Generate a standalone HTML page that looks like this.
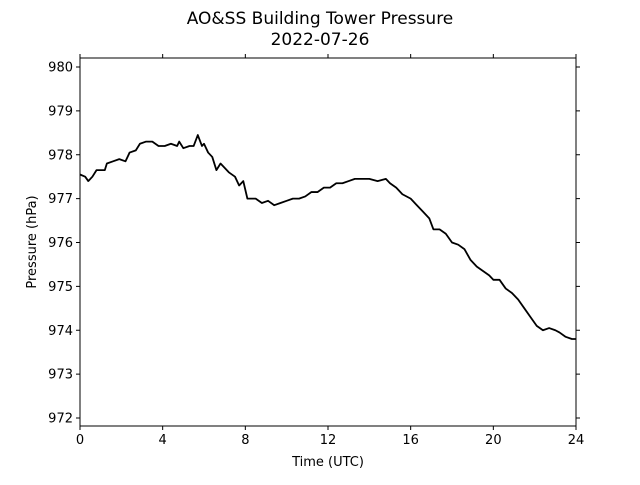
<!DOCTYPE html>
<html><head><meta charset="utf-8"><style>
body{margin:0;background:#fff}
text{font-family:"DejaVu Sans","Liberation Sans",sans-serif;fill:#000}
</style></head><body>
<svg id="chart" width="640" height="480" xmlns="http://www.w3.org/2000/svg">
<text x="320" y="24" font-size="17" text-anchor="middle">AO&amp;SS Building Tower Pressure</text>
<text x="320" y="45" font-size="17" text-anchor="middle">2022-07-26</text>
<text x="328" y="466" font-size="13" text-anchor="middle">Time (UTC)</text>
<text transform="translate(36,242) rotate(-90)" font-size="13" text-anchor="middle">Pressure (hPa)</text>
</svg>
<script>
const hours=[0,0.25,0.4,0.6,0.8,1.2,1.3,1.6,1.9,2.2,2.4,2.7,2.9,3.2,3.5,3.8,4.1,4.4,4.7,4.8,5.0,5.3,5.5,5.7,5.9,6.0,6.2,6.4,6.6,6.8,7.0,7.2,7.5,7.7,7.9,8.1,8.5,8.8,9.1,9.4,9.7,10.0,10.3,10.6,10.9,11.2,11.5,11.8,12.1,12.4,12.7,13.0,13.3,13.6,14.0,14.4,14.8,15.0,15.3,15.6,16.0,16.3,16.6,16.9,17.1,17.4,17.7,18.0,18.3,18.6,18.9,19.2,19.5,19.8,20.0,20.3,20.6,20.9,21.2,21.5,21.8,22.1,22.4,22.7,23.0,23.2,23.5,23.8,24.0];
const pressure=[977.55,977.5,977.4,977.5,977.65,977.65,977.8,977.85,977.9,977.85,978.05,978.1,978.25,978.3,978.3,978.2,978.2,978.25,978.2,978.3,978.15,978.2,978.2,978.45,978.2,978.25,978.05,977.95,977.65,977.8,977.7,977.6,977.5,977.3,977.4,977.0,977.0,976.9,976.95,976.85,976.9,976.95,977.0,977.0,977.05,977.15,977.15,977.25,977.25,977.35,977.35,977.4,977.45,977.45,977.45,977.4,977.45,977.35,977.25,977.1,977.0,976.85,976.7,976.55,976.3,976.3,976.2,976.0,975.95,975.85,975.6,975.45,975.35,975.25,975.15,975.15,974.95,974.85,974.7,974.5,974.3,974.1,974.0,974.05,974.0,973.95,973.85,973.8,973.8];
const xTicks=[0,4,8,12,16,20,24];
const yTicks=[972,973,974,975,976,977,978,979,980];
const L=80,R=576,T=58,B=426;
const x=h=>L+(h/24)*(R-L);
const y=v=>418-(v-972)*43.875;
const svg=document.getElementById('chart');const NS='http://www.w3.org/2000/svg';
function mk(tag,attrs){const e=document.createElementNS(NS,tag);for(const k in attrs)e.setAttribute(k,attrs[k]);svg.appendChild(e);return e;}
xTicks.forEach(t=>{
 const a=mk('line',{x1:x(t),x2:x(t),y1:B,y2:B+4,stroke:'#000'});
 
 const b=mk('line',{x1:x(t),x2:x(t),y1:T,y2:T-4,stroke:'#000'});
 
 const l=mk('text',{x:x(t),y:B+18,'font-size':13,'text-anchor':'middle'});l.textContent=t;
 
});
yTicks.forEach(t=>{
 const a=mk('line',{x1:L-4,x2:L,y1:y(t),y2:y(t),stroke:'#000'});
 
 const b=mk('line',{x1:R,x2:R+4,y1:y(t),y2:y(t),stroke:'#000'});
 
 const l=mk('text',{x:L-7,y:y(t)+4.5,'font-size':13,'text-anchor':'end'});l.textContent=t;
 
});
const p=mk('polyline',{points:hours.map((h,i)=>x(h)+','+y(pressure[i])).join(' '),fill:'none',stroke:'#000','stroke-width':1.8,'stroke-linejoin':'round'});

const f=mk('rect',{x:L,y:T,width:R-L,height:B-T,fill:'none',stroke:'#000','stroke-width':1});

</script>
</body></html>
